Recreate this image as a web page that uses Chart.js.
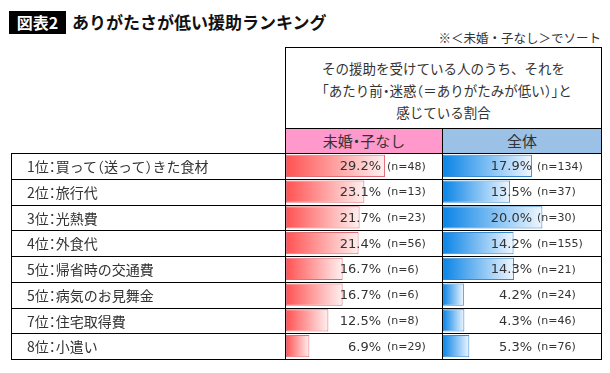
<!DOCTYPE html>
<html lang="ja">
<head>
<meta charset="utf-8">
<script src="https://cdn.jsdelivr.net/npm/chart.js@4.4.1/dist/chart.umd.min.js"></script>
<style>
  body { margin: 0; width: 610px; height: 373px; overflow: hidden; background: #fff;
         font-family: "Noto Sans CJK JP", "Noto Sans", sans-serif; color: #333; position: relative; }
  .abs { position: absolute; }
  .badge { left: 9px; top: 11px; width: 57px; height: 23px; background: #000; color: #fff;
           font-weight: 700; font-size: 16px; line-height: 23px; text-align: center; }
  .title { left: 72px; top: 9px; font-weight: 700; font-size: 17px; line-height: 26px; color: #111; white-space: nowrap; }
  .note { right: 9px; top: 29px; font-size: 12.5px; line-height: 18px; white-space: nowrap; }
  .headbox { left: 285px; top: 47px; width: 317px; height: 107px; border: 1px solid #000; box-sizing: border-box; }
  .headtext { left: 285px; top: 57px; width: 317px; text-align: center; font-size: 13.5px; line-height: 22px; }
  .hcell { top: 128px; height: 26px; border: 1px solid #000; box-sizing: border-box; text-align: center;
           font-size: 15px; line-height: 24px; }
  .grid { left: 11px; top: 153px; width: 591px; height: 207px; border: 1px solid #000; box-sizing: border-box; }
  .hline { left: 11px; width: 591px; height: 1px; background: #000; }
  .vline { top: 153px; height: 207px; width: 1px; background: #000; }
  .label { left: 27px; font-size: 14px; line-height: 26px; white-space: nowrap; }
  .half { font-feature-settings: "halt"; }
  canvas { position: absolute; }
</style>
</head>
<body>
<div class="abs badge">図表2</div>
<div class="abs title">ありがたさが低い援助ランキング</div>
<div class="abs note">※＜未婚・子なし＞でソート</div>

<div class="abs headbox"></div>
<div class="abs headtext">その援助を受けている人のうち、それを<br>「あたり前<span class="half">・</span>迷惑<span class="half">（</span>＝ありがたみが低い<span class="half">）」</span>と<br>感じている割合</div>
<div class="abs hcell" style="left:285px;width:158px;background:#FF99CC;">未婚<span class="half">・</span>子なし</div>
<div class="abs hcell" style="left:442px;width:160px;background:#9BC2E6;">全体</div>

<canvas id="chartSingle" width="157" height="206" style="left:285px;top:153px;"></canvas>
<canvas id="chartAll" width="160" height="206" style="left:442px;top:153px;"></canvas>

<div id="gridLayer"></div>

<script>
// 行ラベル（ランキング）
var categories = [
    '1位：買って（送って）きた食材',
    '2位：旅行代',
    '3位：光熱費',
    '4位：外食代',
    '5位：帰省時の交通費',
    '5位：病気のお見舞金',
    '7位：住宅取得費',
    '8位：小遣い'
];
// 未婚・子なし
var singleValues = [29.2, 23.1, 21.7, 21.4, 16.7, 16.7, 12.5, 6.9];
var singleN = [48, 13, 23, 56, 6, 6, 8, 29];
// 全体
var allValues = [17.9, 13.5, 20.0, 14.2, 14.3, 4.2, 4.3, 5.3];
var allN = [134, 37, 30, 155, 21, 24, 46, 76];

// 表の罫線とラベル
var rowTop = 153, rowH = 206 / categories.length;
var layer = document.getElementById('gridLayer');
var html = '<div class="abs grid"></div>';
for (var i = 1; i < categories.length; i++) {
    html += '<div class="abs hline" style="top:' + Math.round(rowTop + i * rowH) + 'px"></div>';
}
html += '<div class="abs vline" style="left:285px"></div>';
html += '<div class="abs vline" style="left:442px"></div>';
categories.forEach(function (c, i) {
    // 全角の記号は詰めて表示
    var t = c.replace(/([：（）])/g, '<span class="half">$1</span>');
    html += '<div class="abs label" style="top:' + Math.round(rowTop + i * rowH) + 'px">' + t + '</div>';
});
layer.innerHTML = html;

// データバーのグラデーション
function gradientFill(from, to) {
    return function (context) {
        var chart = context.chart;
        var xs = chart.scales.x;
        if (!xs || context.type !== 'data') return from;
        var x0 = xs.getPixelForValue(0);
        var x1 = xs.getPixelForValue(context.raw);
        if (!isFinite(x0) || !isFinite(x1) || x1 <= x0) return from;
        var g = chart.ctx.createLinearGradient(x0, 0, x1, 0);
        g.addColorStop(0, from);
        g.addColorStop(1, to);
        return g;
    };
}

// 数値ラベル（% と n）
function valueLabels(nList, pctRight, nLeft) {
    return {
        id: 'valueLabels',
        afterDatasetsDraw: function (chart) {
            var c = chart.ctx;
            var meta = chart.getDatasetMeta(0);
            var data = chart.data.datasets[0].data;
            c.save();
            c.fillStyle = '#333';
            c.textBaseline = 'middle';
            meta.data.forEach(function (bar, i) {
                c.font = '13px "DejaVu Sans"';
                c.textAlign = 'right';
                c.fillText(data[i].toFixed(1) + '%', pctRight, bar.y + 1);
                c.font = '11px "DejaVu Sans"';
                c.textAlign = 'left';
                c.fillText('(n=' + nList[i] + ')', nLeft, bar.y + 1);
            });
            c.restore();
        }
    };
}

function makeChart(id, values, nList, max, from, to, border, pctRight, nLeft) {
    var el = document.getElementById(id);
    if (!el) {
        console.error("Canvas element with ID '" + id + "' not found.");
        return;
    }
    return new Chart(el, {
        type: 'bar',
        data: {
            labels: categories,
            datasets: [{
                data: values,
                backgroundColor: gradientFill(from, to),
                borderColor: border,
                borderWidth: 1,
                borderSkipped: false,
                categoryPercentage: 1,
                barPercentage: 0.86
            }]
        },
        options: {
            indexAxis: 'y',
            responsive: false,
            animation: false,
            devicePixelRatio: 1,
            layout: { padding: { left: 1, right: 0, top: 0, bottom: 0 } },
            scales: {
                x: { display: false, min: 0, max: max },
                y: { display: false }
            },
            plugins: {
                legend: { display: false },
                tooltip: { enabled: false }
            }
        },
        plugins: [valueLabels(nList, pctRight, nLeft)]
    });
}

makeChart('chartSingle', singleValues, singleN, 46, '#FF5252', '#FFF0F0', '#E07078', 381 - 285, 387 - 285);
makeChart('chartAll', allValues, allN, 32, '#0A84E6', '#F0F7FF', '#3A8AD0', 532 - 442, 537 - 442);
</script>
</body>
</html>
